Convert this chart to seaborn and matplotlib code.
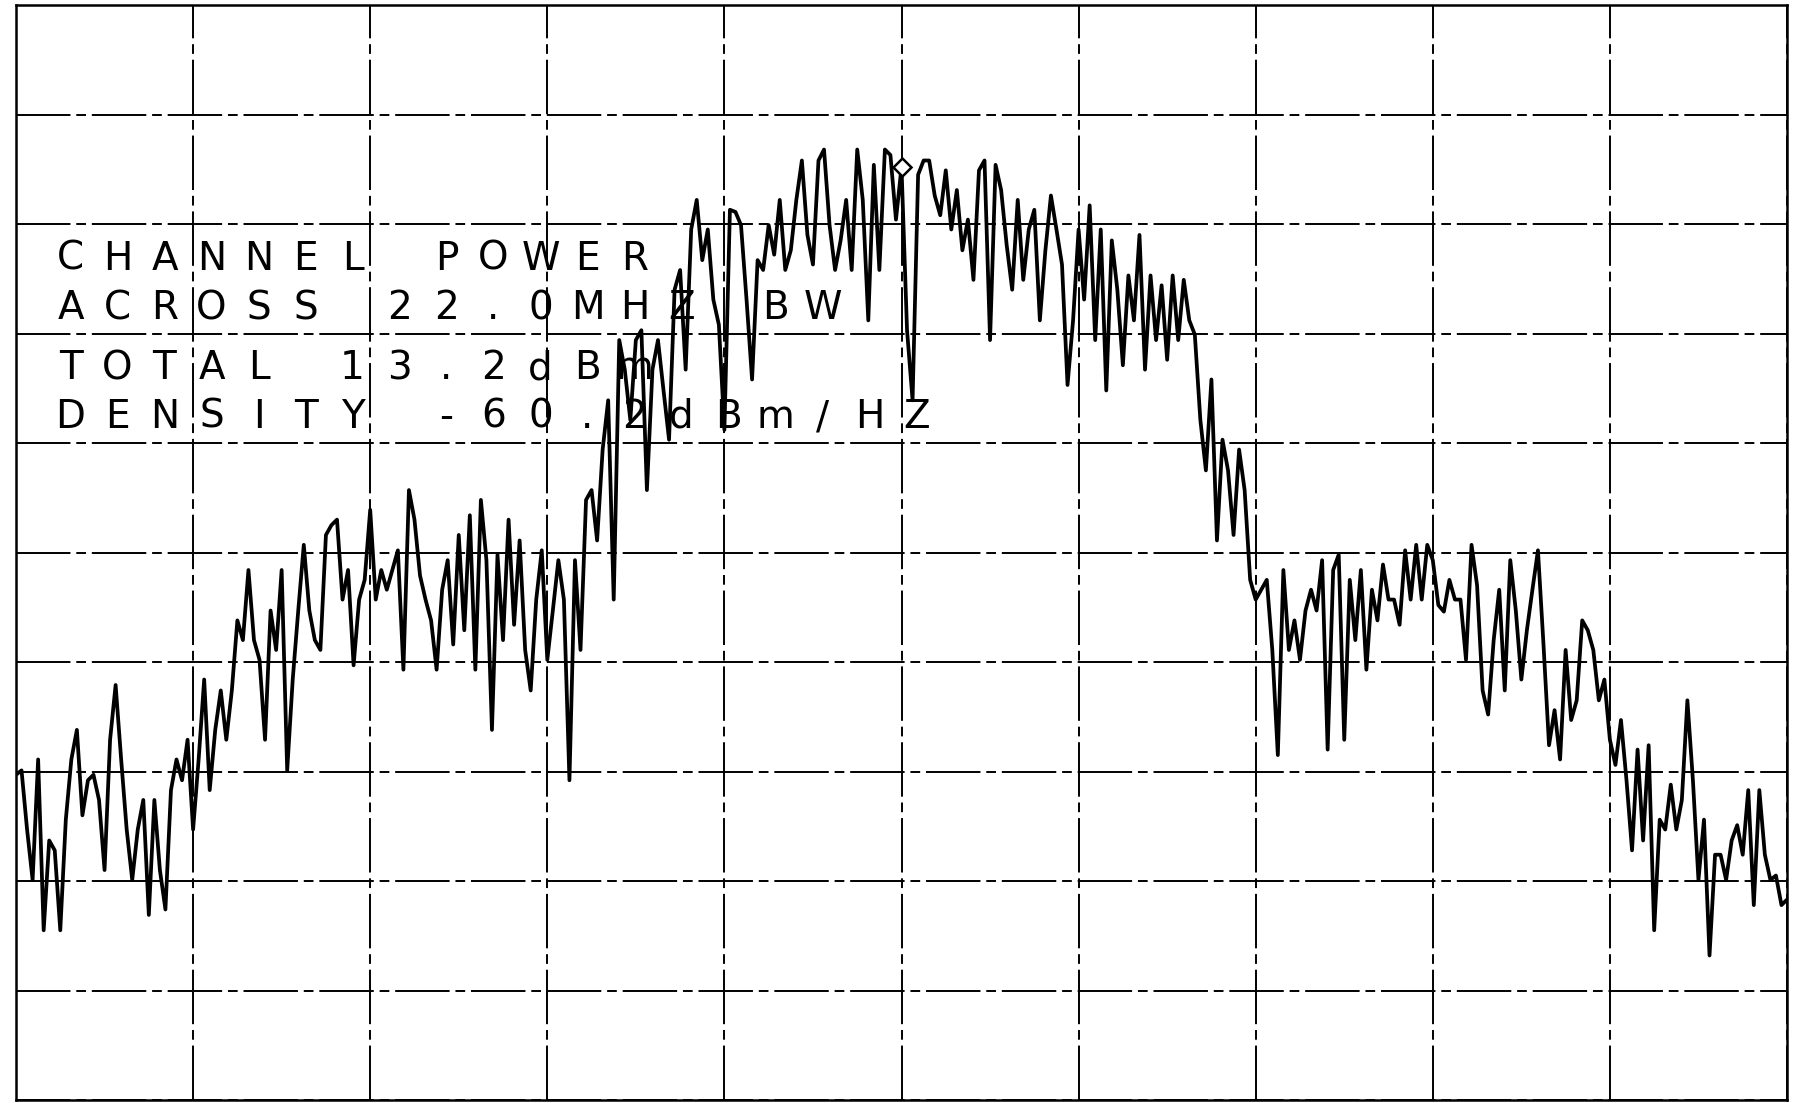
import numpy as np
import matplotlib
matplotlib.use("Agg")
import matplotlib.pyplot as plt
import seaborn as sns

# spectrum analyser sweep, 10 dB/div, reference level 0 dBm
freq_start = 2412.0
freq_stop = 2462.0
ref_level = 0.0
bottom_level = -100.0

# trace levels (dBm), read division by division from the plot
level = [
    # div 0
    -70.3, -69.9, -75.3, -79.9, -68.9, -84.5, -76.3, -77.2, -84.5, -74.4, -68.9,
    -66.2, -74.0, -70.8, -70.3, -72.6, -79.0, -67.1, -62.1, -68.9, -75.3, -79.9,
    -75.3, -72.6, -83.1, -72.6, -79.0, -82.6, -71.7, -68.9, -70.8, -67.1, -75.3,
    # div 1
    -68.9, -61.6, -71.7, -66.2, -62.6, -67.1, -62.6, -56.2, -58.0, -51.6, -58.0,
    -59.8, -67.1, -55.3, -58.9, -51.6, -69.9, -61.6, -55.3, -49.3, -55.3, -58.0,
    -58.9, -48.4, -47.5, -47.0, -54.3, -51.6, -60.3, -54.3, -52.5, -46.1,
    # div 2
    -54.3, -51.6, -53.4, -51.6, -49.8, -60.7, -44.3, -47.0, -52.1, -54.3, -56.2,
    -60.7, -53.4, -50.7, -58.4, -48.4, -57.1, -46.6, -60.7, -45.2, -50.7, -66.2,
    -50.2, -58.0, -47.0, -56.6, -48.9, -58.9, -62.6, -54.3, -49.8, -59.8,
    # div 3
    -55.3, -50.7, -54.3, -70.8, -50.7, -58.9, -45.2, -44.3, -48.9, -40.6, -36.1,
    -54.3, -30.6, -33.3, -37.9, -30.6, -29.7, -44.3, -33.3, -30.6, -35.2, -39.7,
    -26.0, -24.2, -33.3, -20.5, -17.8, -23.3, -20.5, -26.9, -29.2, -38.8,
    # div 4
    -18.7, -18.9, -20.1, -26.9, -34.2, -23.3, -24.2, -20.1, -22.8, -17.8, -24.2,
    -22.4, -17.8, -14.2, -21.0, -23.7, -14.2, -13.2, -20.1, -24.2, -21.5, -17.8,
    -24.2, -13.2, -17.8, -28.8, -14.6, -24.2, -13.2, -13.7, -19.6, -14.8,
    # div 5
    -29.7, -36.1, -15.5, -14.2, -14.2, -17.4, -19.2, -15.1, -20.5, -16.9, -22.4,
    -19.6, -25.1, -15.1, -14.2, -30.6, -14.6, -16.9, -21.9, -26.0, -17.8, -25.1,
    -20.5, -18.7, -28.8, -22.4, -17.4, -20.5, -23.7, -34.7, -28.8, -20.5,
    # div 6
    -26.9, -18.3, -30.6, -20.5, -35.2, -21.5, -26.0, -32.9, -24.7, -28.8, -21.0,
    -33.3, -24.7, -30.6, -25.6, -32.4, -24.7, -30.6, -25.1, -28.8, -30.1, -37.9,
    -42.5, -34.2, -48.9, -39.7, -42.5, -48.4, -40.6, -44.3, -52.5, -54.3,
    # div 7
    -53.4, -52.5, -58.9, -68.5, -51.6, -58.9, -56.2, -59.8, -55.3, -53.4, -55.3,
    -50.7, -68.0, -51.6, -50.2, -67.1, -52.5, -58.0, -51.6, -60.7, -53.4, -56.2,
    -51.1, -54.3, -54.3, -56.6, -49.8, -54.3, -49.3, -54.3, -49.3, -50.7,
    # div 8
    -54.8, -55.4, -52.5, -54.3, -54.3, -59.8, -49.3, -53.0, -62.6, -64.8, -58.0,
    -53.4, -62.6, -50.7, -55.3, -61.6, -57.1, -53.4, -49.8, -58.4, -67.6, -64.4,
    -68.9, -58.9, -65.3, -63.5, -56.2, -57.1, -58.9, -63.5, -61.6, -67.1,
    # div 9
    -69.4, -65.3, -70.8, -77.2, -68.0, -76.3, -67.6, -84.5, -74.4, -75.3, -71.2,
    -75.3, -72.6, -63.5, -70.8, -79.9, -74.4, -86.8, -77.6, -77.6, -79.9, -76.3,
    -74.9, -77.6, -71.7, -82.2, -71.7, -77.6, -79.9, -79.5, -82.2, -81.7,
]
marker_index = 160

readout = [
    "CHANNEL POWER",
    "ACROSS 22.0MHZ BW",
    "TOTAL 13.2dBm",
    "DENSITY -60.2dBm/HZ",
]

freq = np.linspace(freq_start, freq_stop, len(level))
df = {"freq": freq, "level": level}

sns.set_style("white")
plt.rcParams["font.family"] = ["DejaVu Sans"]

fig = plt.figure(figsize=(18.01, 11.03), dpi=100)
ax = fig.add_axes([16 / 1801, 3 / 1103, 1771 / 1801, 1095 / 1103])

sns.lineplot(data=df, x="freq", y="level", ax=ax, color="black",
             linewidth=2.7, estimator=None, zorder=3)
ax.plot(freq[marker_index], level[marker_index], marker="D", ms=9.5,
        mfc="white", mec="black", mew=1.8, zorder=4)

ax.set_xlim(freq_start, freq_stop)
ax.set_ylim(bottom_level, ref_level)
ax.set_xticks(np.linspace(freq_start, freq_stop, 11))
ax.set_yticks(np.arange(bottom_level, ref_level + 1, 10))
ax.tick_params(length=0, labelbottom=False, labelleft=False)
ax.set_xlabel("")
ax.set_ylabel("")
ax.grid(True, color="black", linewidth=1.4, linestyle=(0, (28, 3, 5, 3)))
for sp in ax.spines.values():
    sp.set_color("black")
    sp.set_linewidth(1.8)

# plotter style readout, fixed character pitch
pitch = 47 / 1771
x0 = (52 + 18.5 - 16) / 1771
baselines = [270, 319, 379, 428]
for line, by in zip(readout, baselines):
    yf = (1100 - by) / 1095
    for k, ch in enumerate(line):
        if ch == " ":
            continue
        ax.text(x0 + k * pitch, yf, ch, transform=ax.transAxes,
                ha="center", va="baseline", fontsize=28, color="black",
                zorder=2)

fig.savefig("out.png", dpi=100, facecolor="white")
